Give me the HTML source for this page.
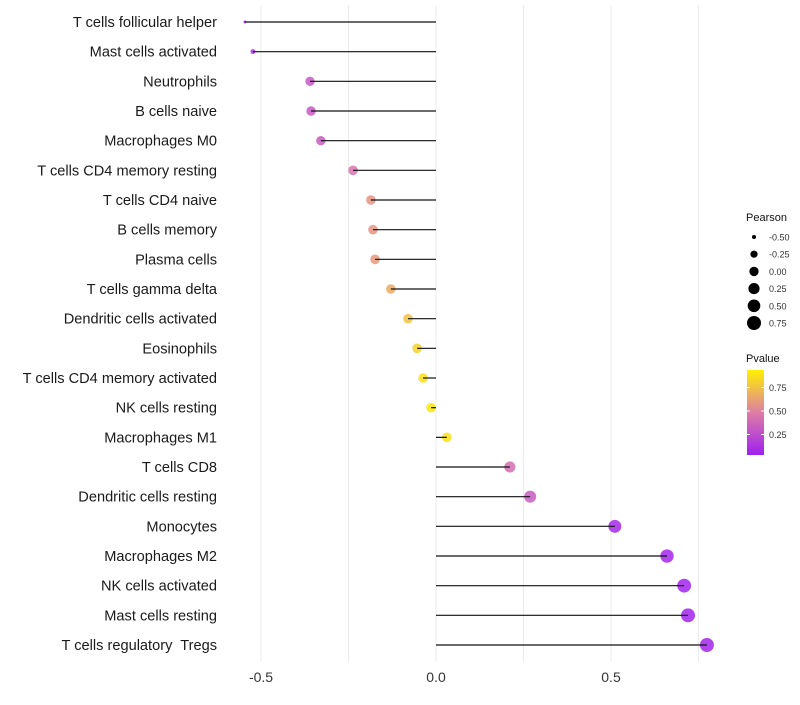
<!DOCTYPE html>
<html><head><meta charset="utf-8"><style>
body{margin:0;background:#fff;font-family:"Liberation Sans",sans-serif}
text{white-space:pre}
</style></head><body>
<svg id="chart" width="800" height="700" xmlns="http://www.w3.org/2000/svg"></svg>
<script>
const categories=["T cells follicular helper","Mast cells activated","Neutrophils","B cells naive","Macrophages M0","T cells CD4 memory resting","T cells CD4 naive","B cells memory","Plasma cells","T cells gamma delta","Dendritic cells activated","Eosinophils","T cells CD4 memory activated","NK cells resting","Macrophages M1","T cells CD8","Dendritic cells resting","Monocytes","Macrophages M2","NK cells activated","Mast cells resting","T cells regulatory  Tregs"];
const pearson=[-0.546,-0.523,-0.36,-0.357,-0.329,-0.237,-0.186,-0.18,-0.174,-0.129,-0.08,-0.054,-0.037,-0.014,0.031,0.211,0.269,0.511,0.66,0.709,0.72,0.774];
const sizeValue=[-0.55,-0.44,0,0,0,0.03,0.03,0.03,0.03,0.03,0.03,0.03,0.03,0.03,0.05,0.25,0.4,0.56,0.63,0.72,0.74,0.75];
const pvalue=[0.05,0.1,0.3,0.3,0.32,0.45,0.6,0.6,0.62,0.7,0.8,0.86,0.92,0.96,0.93,0.42,0.32,0.05,0.03,0.02,0.02,0.02];
const xTicks=[-0.5,0,0.5];
const sizeLegend=[-0.5,-0.25,0,0.25,0.5,0.75];
const colorTicks=[0.25,0.5,0.75];
const svg=document.getElementById('chart');const NS='http://www.w3.org/2000/svg';
function el(t,a,p){const e=document.createElementNS(NS,t);for(const k in a)e.setAttribute(k,a[k]);(p||svg).appendChild(e);return e;}
const x=v=>436+v*350;
const y=i=>22+i*(623/21);
const r=v=>Math.sqrt(Math.max(1,22+36*v));
function col(p){const s=[[0,[160,32,240]],[0.5,[222,125,165]],[1,[255,240,0]]];let a=s[0],b=s[1];if(p>0.5){a=s[1];b=s[2];}const t=(p-a[0])/(b[0]-a[0]);const c=a[1].map((v,i)=>Math.round(v+(b[1][i]-v)*t));return `rgb(${c})`;}
[-0.5,-0.25,0,0.25,0.5,0.75].forEach(v=>{const g=el('line',{x1:x(v),x2:x(v),y1:5,y2:662,stroke:'#ebebeb','stroke-width':1});});
xTicks.forEach(v=>{const t=el('text',{x:x(v),y:682,'text-anchor':'middle','font-size':14,fill:'#333'});t.textContent=v.toFixed(1);});
categories.forEach((c,i)=>{
 const t=el('text',{x:217,y:y(i)+5,'text-anchor':'end','font-size':14.6,fill:'#1a1a1a','xml:space':'preserve'});t.textContent=c;
 const d=el('circle',{cx:x(pearson[i]),cy:y(i),r:r(sizeValue[i]),fill:col(pvalue[i]),'fill-opacity':0.85});
 const l=el('line',{x1:x(0),x2:x(pearson[i]),y1:y(i),y2:y(i),stroke:'#111','stroke-width':1.2});
});
const lt=el('text',{x:746,y:221,'font-size':11,fill:'#111'});lt.textContent='Pearson';
sizeLegend.forEach((v,i)=>{const cy=237+i*17.2;const c=el('circle',{cx:754,cy:cy,r:r(v),fill:'#000'});const t=el('text',{x:769,y:cy+3.5,'font-size':9,fill:'#333'});t.textContent=v.toFixed(2);});
const pt=el('text',{x:746,y:362,'font-size':11,fill:'#111'});pt.textContent='Pvalue';
const defs=el('defs',{});const gr=el('linearGradient',{id:'g',x1:0,y1:1,x2:0,y2:0},defs);
[[0,0],[0.5,0.5],[1,1]].forEach(s=>el('stop',{offset:s[0],'stop-color':col(s[1])},gr));
const cb=el('rect',{x:747,y:370,width:17,height:85,fill:'url(#g)'});
const cy0=458,cpu=94;
colorTicks.forEach(v=>{const yy=cy0-v*cpu;el('line',{x1:747,x2:750,y1:yy,y2:yy,stroke:'#fff'});el('line',{x1:761,x2:764,y1:yy,y2:yy,stroke:'#fff'});const t=el('text',{x:769,y:yy+3.5,'font-size':9,fill:'#333'});t.textContent=v.toFixed(2);});
</script>
</body></html>
